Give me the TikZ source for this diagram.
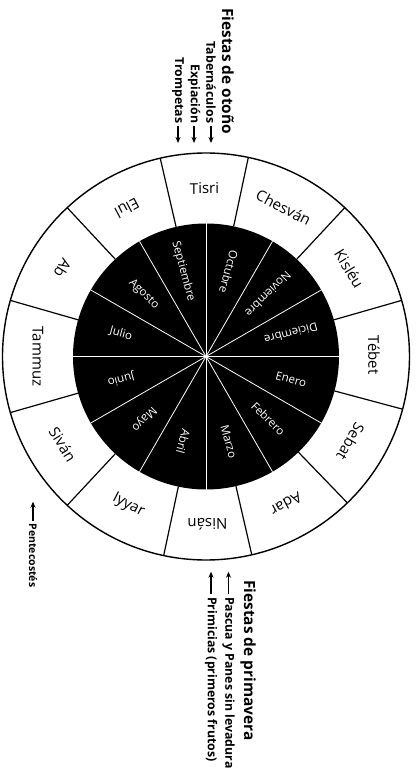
\documentclass[tikz,border=0pt]{standalone}
\usepackage{fontspec}
\setmainfont{Open Sans}
\usetikzlibrary{arrows.meta}

\begin{document}
\begin{tikzpicture}[x=1pt, y=1pt,
      hebmonth/.style={font=\fontsize{15}{16}\selectfont, inner sep=0pt},
      gregmonth/.style={font=\fontsize{11.5}{13}\selectfont, text=white, inner sep=0pt},
      fest/.style={font=\fontsize{12.3}{14}\selectfont\bfseries, inner sep=0pt, rotate=-90},
      head/.style={font=\fontsize{15.4}{17}\selectfont\bfseries, inner sep=0pt, rotate=-90},
      arr/.style={-{Stealth[length=6pt, width=5pt]}, line width=1.8pt, shorten <=3pt}]
    \useasboundingbox (-206,-414.5) rectangle (210,356.5);
    % wheel
    \draw[line width=1.4pt] (0,0) circle (203.5);
    \fill (0,0) circle (133);
    \foreach \a in {16,47,78,103,133,164,196,227,258,283,314,345}
      \draw[line width=1.2pt] (\a:133) -- (\a:203.5);
    \foreach \a in {0,30,...,330}
      \draw[white, line width=0.8pt] (0,0) -- (\a:133);
    % hebrew months
    \foreach \a/\r/\t [count=\i] in {0.5/-89.5/Tébet, 31.5/-58.5/Kisléu, 62.5/-27.5/Chesván,
        90.5/0.5/Tisri, 118/-152/Elul, 148.5/-121.5/Ab, 180/-90/Tammuz, 211.5/-58.5/Siván,
        242.5/-27.5/Iyyar, 270.5/-179.5/Nisán, 298.5/-151.5/Adar, 329.5/-120.5/Sebat}
      \node[hebmonth, rotate=\r] (heb\i) at (\a:168) {\t};
    % gregorian months
    \foreach \a/\r/\t [count=\i] in {-15/-15/Enero, -45/-45/Febrero, -75/-75/Marzo,
        -105/-105/Abril, -135/-135/Mayo, -165/-165/Junio, 165/-15/Julio, 135/-45/Agosto,
        105/-75/Septiembre, 75/-105/Octubre, 45/-135/Noviembre, 15/-165/Diciembre}
      \node[gregmonth, rotate=\r] (greg\i) at (\a:88) {\t};
    % autumn feasts
    \node[head, anchor=west] (otono) at (22,348.5) {Fiestas de otoño};
    \node[fest, anchor=east] (tab) at (5,233) {Tabernáculos};
    \node[fest, anchor=east] (exp) at (-12,233) {Expiación};
    \node[fest, anchor=east] (tro) at (-28,233) {Trompetas};
    \coordinate (tabtip) at (5,213.5);
    \coordinate (exptip) at (-12,213.5);
    \coordinate (trotip) at (-28,213.5);
    \draw[arr] (tab) -- (tabtip);
    \draw[arr] (exp) -- (exptip);
    \draw[arr] (tro) -- (trotip);
    % spring feasts
    \node[head, anchor=west] (prim) at (42,-223.5) {Fiestas de primavera};
    \node[fest, anchor=west] (pas) at (22.5,-240.5) {Pascua y Panes sin levadura};
    \node[fest, anchor=west] (pri) at (5,-240.5) {Primicias (primeros frutos)};
    \node[fest, anchor=west, font=\fontsize{10.5}{12}\selectfont\bfseries] (pen) at (-173,-167) {Pentecostés};
    \coordinate (pastip) at (22.5,-215.2);
    \coordinate (pritip) at (5,-215.2);
    \coordinate (pentip) at (-173,-145.2);
    \draw[arr] (pas) -- (pastip);
    \draw[arr] (pri) -- (pritip);
    \draw[arr] (pen) -- (pentip);
  \end{tikzpicture}
\end{document}
